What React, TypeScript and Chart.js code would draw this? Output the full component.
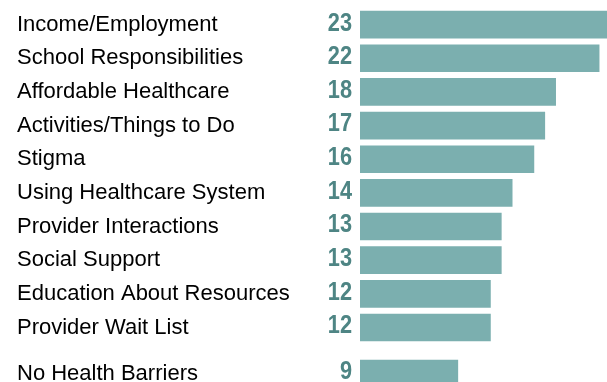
import React, { useEffect, useRef } from "react";
import { Chart, registerables } from "chart.js";

Chart.register(...registerables);

const categories = [
  "Income/Employment",
  "School Responsibilities",
  "Affordable Healthcare",
  "Activities/Things to Do",
  "Stigma",
  "Using Healthcare System",
  "Provider Interactions",
  "Social Support",
  "Education About Resources",
  "Provider Wait List",
];
const values = [23, 22, 18, 17, 16, 14, 13, 13, 12, 12];

const extraCategories = ["No Health Barriers"];
const extraValues = [9];

const X_MAX = 23;
const BAR_COLOR = "#7BAFAF";
const VALUE_COLOR = "#4E8584";
const LABEL_FONT = { family: "'Liberation Sans', Arial, sans-serif", size: 22, lineHeight: 0.2 };
const VALUE_FONT = "bold 25px 'Liberation Sans', Arial, sans-serif";

const valueLabelPlugin = {
  id: "valueLabels",
  afterDatasetsDraw(chart: any) {
    const ctx = chart.ctx;
    const meta = chart.getDatasetMeta(0);
    const data = chart.data.datasets[0].data;
    meta.data.forEach((bar: any, i: number) => {
      ctx.save();
      ctx.font = VALUE_FONT;
      ctx.fillStyle = VALUE_COLOR;
      ctx.textAlign = "right";
      ctx.textBaseline = "middle";
      ctx.translate(bar.base - 8, bar.y - 1);
      ctx.scale(0.87, 1);
      ctx.fillText(String(data[i]), 0, 0);
      ctx.restore();
    });
  },
};

function makeConfig(labels: string[], data: number[], padTop: number, padBottom: number) {
  return {
    type: "bar" as const,
    data: {
      labels,
      datasets: [
        {
          data,
          backgroundColor: BAR_COLOR,
          borderWidth: 0,
          barThickness: 27,
        },
      ],
    },
    options: {
      indexAxis: "y" as const,
      animation: false as const,
      responsive: false,
      maintainAspectRatio: false,
      layout: { padding: { left: 17, right: 0, top: padTop, bottom: padBottom } },
      plugins: { legend: { display: false }, tooltip: { enabled: false } },
      scales: {
        x: { display: false, min: 0, max: X_MAX },
        y: {
          grid: { display: false, drawTicks: false },
          border: { display: false },
          ticks: {
            crossAlign: "far" as const,
            color: "#000000",
            font: LABEL_FONT,
            padding: 0,
            autoSkip: false,
          },
          afterFit(scale: any) {
            scale.width = 343;
          },
        },
      },
    },
    plugins: [valueLabelPlugin],
  };
}

export default function App() {
  const refA = useRef<HTMLCanvasElement>(null);
  const refB = useRef<HTMLCanvasElement>(null);

  useEffect(() => {
    const a = new Chart(refA.current!, makeConfig(categories, values, 7.8, 5.7) as any);
    const b = new Chart(refB.current!, makeConfig(extraCategories, extraValues, 0, 0) as any);
    return () => {
      a.destroy();
      b.destroy();
    };
  }, []);

  return (
    <div
      style={{
        position: "fixed",
        left: 0,
        top: 0,
        width: 607,
        height: 382,
        overflow: "hidden",
        background: "#ffffff",
      }}
    >
      <canvas
        ref={refA}
        width={610}
        height={350}
        style={{ position: "absolute", left: 0, top: 0, width: 610, height: 350 }}
      />
      <canvas
        ref={refB}
        width={610}
        height={35}
        style={{ position: "absolute", left: 0, top: 356, width: 610, height: 35 }}
      />
    </div>
  );
}
